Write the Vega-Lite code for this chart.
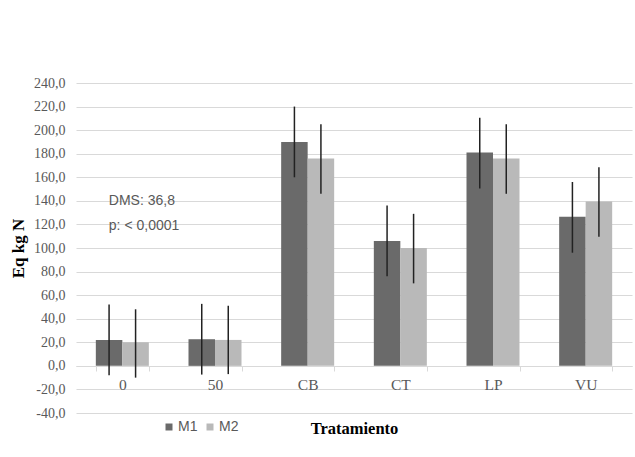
{
  "$schema": "https://vega.github.io/schema/vega-lite/v6.json",
  "width": 556,
  "height": 330,
  "autosize": {"type": "none"},
  "padding": {"left": 76, "top": 83, "right": 3, "bottom": 44},
  "background": "white",
  "config": {
    "view": {"stroke": null},
    "axis": {"labelFont": "Liberation Serif", "titleFont": "Liberation Serif", "labelColor": "#595959"},
    "axisY": {
      "values": [-40, -20, 0, 20, 40, 60, 80, 100, 120, 140, 160, 180, 200, 220, 240],
      "labelExpr": "replace(replace(format(datum.value, '.1f'), '.', ','), '\u2212', '-')",
      "labelOverlap": false,
      "domain": false,
      "ticks": false,
      "grid": true,
      "gridColor": "#d9d9d9",
      "labelFont": "Liberation Serif",
      "labelFontSize": 14,
      "labelColor": "#595959",
      "labelPadding": 11,
      "titleFont": "Liberation Serif",
      "titleFontWeight": "bold",
      "titleFontSize": 17,
      "titleColor": "#000000",
      "titlePadding": 6
    }
  },
  "datasets": {
    "bars": [
      {"trat": "0", "serie": "M1", "valor": 22, "lo": -8, "hi": 52},
      {"trat": "0", "serie": "M2", "valor": 20, "lo": -10, "hi": 48},
      {"trat": "50", "serie": "M1", "valor": 22.6, "lo": -7.4, "hi": 52.6},
      {"trat": "50", "serie": "M2", "valor": 22, "lo": -7, "hi": 51},
      {"trat": "CB", "serie": "M1", "valor": 190, "lo": 160, "hi": 220},
      {"trat": "CB", "serie": "M2", "valor": 176, "lo": 146, "hi": 205},
      {"trat": "CT", "serie": "M1", "valor": 106, "lo": 76, "hi": 136},
      {"trat": "CT", "serie": "M2", "valor": 100, "lo": 70, "hi": 129},
      {"trat": "LP", "serie": "M1", "valor": 181, "lo": 150.5, "hi": 210.5},
      {"trat": "LP", "serie": "M2", "valor": 176, "lo": 146, "hi": 205},
      {"trat": "VU", "serie": "M1", "valor": 126.5, "lo": 96, "hi": 156},
      {"trat": "VU", "serie": "M2", "valor": 139.5, "lo": 109.5, "hi": 168.5}
    ],
    "notes": [
      {"trat": "0", "label": "DMS: 36,8", "y": 140},
      {"trat": "0", "label": "p: < 0,0001", "y": 119}
    ]
  },
  "layer": [
    {
      "data": {"name": "bars"},
      "mark": {"type": "bar"},
      "encoding": {
        "x": {
          "field": "trat", "type": "nominal",
          "sort": ["0", "50", "CB", "CT", "LP", "VU"],
          "scale": {"paddingInner": 0.428, "paddingOuter": 0.214},
          "axis": {
            "title": "Tratamiento",
            "offset": -47,
            "labelAngle": 0,
            "labelFont": "Liberation Serif",
            "labelFontSize": 15.5,
            "labelColor": "#595959",
            "labelPadding": 6,
            "domainColor": "#d9d9d9",
            "tickColor": "#d9d9d9",
            "tickSize": 5,
            "tickBand": "extent",
            "grid": false,
            "titleFont": "Liberation Serif",
            "titleFontWeight": "bold",
            "titleFontSize": 16.5,
            "titleColor": "#000000",
            "titleBaseline": "alphabetic",
            "titleY": 67
          }
        },
        "xOffset": {"field": "serie", "type": "nominal", "scale": {"paddingInner": 0, "paddingOuter": 0}},
        "y": {
          "field": "valor", "type": "quantitative",
          "scale": {"domain": [-40, 240], "nice": false, "zero": false},
          "axis": {"title": "Eq kg N", "labelFont": "Liberation Serif", "labelFontSize": 14, "labelColor": "#595959"}
        },
        "y2": {"datum": 0},
        "color": {
          "field": "serie", "type": "nominal",
          "scale": {"domain": ["M1", "M2"], "range": ["#6a6a6a", "#b9b9b9"]},
          "legend": {
            "title": null,
            "orient": "none",
            "direction": "horizontal",
            "legendX": 86,
            "legendY": 337,
            "symbolType": "square",
            "symbolSize": 49,
            "symbolStrokeWidth": 0,
            "labelFont": "Liberation Sans",
            "labelFontSize": 14,
            "labelColor": "#595959",
            "labelOffset": 2,
            "columnPadding": 5
          }
        }
      }
    },
    {
      "data": {"name": "bars"},
      "mark": {"type": "rule", "strokeWidth": 1.5, "color": "#222222"},
      "encoding": {
        "x": {"field": "trat", "type": "nominal", "sort": ["0", "50", "CB", "CT", "LP", "VU"]},
        "xOffset": {"field": "serie", "type": "nominal"},
        "y": {"field": "lo", "type": "quantitative", "axis": {"title": "Eq kg N", "labelFont": "Liberation Serif", "labelFontSize": 14, "labelColor": "#595959"}},
        "y2": {"field": "hi"}
      }
    },
    {
      "data": {"name": "notes"},
      "mark": {
        "type": "text", "align": "left", "baseline": "middle", "dx": -13.5,
        "font": "Liberation Sans",
        "fontSize": 14, "color": "#595959"
      },
      "encoding": {
        "x": {"field": "trat", "type": "nominal", "sort": ["0", "50", "CB", "CT", "LP", "VU"]},
        "y": {"field": "y", "type": "quantitative", "axis": {"title": "Eq kg N", "labelFont": "Liberation Serif", "labelFontSize": 14, "labelColor": "#595959"}},
        "text": {"field": "label"}
      }
    }
  ]
}
